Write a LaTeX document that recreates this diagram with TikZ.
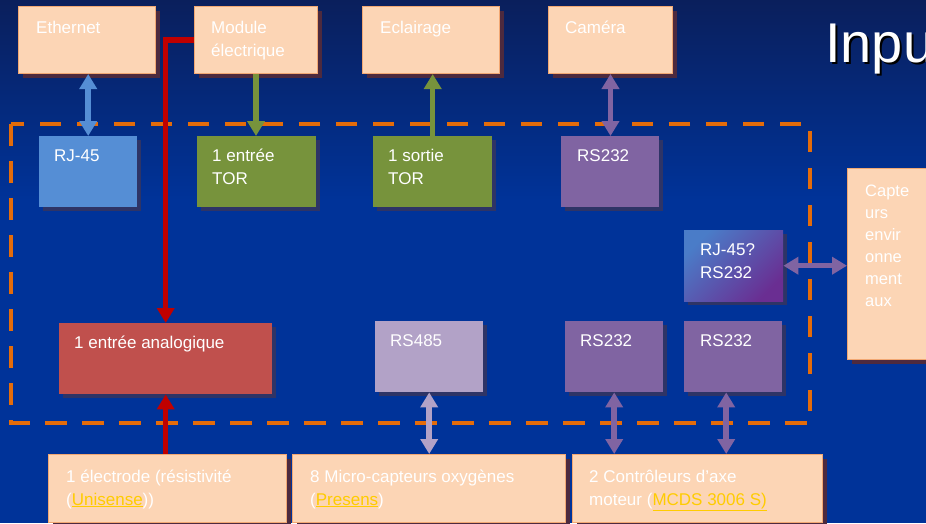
\documentclass[tikz,border=0pt]{standalone}
\usepackage{fontspec}
\setmainfont{Liberation Sans}
\usetikzlibrary{arrows.meta,shadows}
\definecolor{bgtop}{HTML}{0A1F5C}
\definecolor{bgbot}{HTML}{003399}
\definecolor{peach}{HTML}{FCD5B5}
\definecolor{peachline}{HTML}{F2A873}
\definecolor{peachshadow}{HTML}{4D2A3E}
\definecolor{boxshadow}{HTML}{2E3466}
\definecolor{blueb}{HTML}{558ED5}
\definecolor{greenb}{HTML}{77933C}
\definecolor{purpleb}{HTML}{8064A2}
\definecolor{lavb}{HTML}{B2A2C7}
\definecolor{redb}{HTML}{C0504D}
\definecolor{darkred}{HTML}{C00000}
\definecolor{dashor}{HTML}{E46C0A}
\definecolor{linky}{HTML}{FFCC00}
\definecolor{gradblue}{HTML}{4A7CC8}
\definecolor{gradpurple}{HTML}{6A2E92}
\newcommand\lnk[1]{\textcolor{linky}{\underline{#1}}}
\tikzset{
  pbox/.style={draw=peachline, line width=1pt, fill=peach, anchor=north west, inner sep=0pt,
    drop shadow={fill=peachshadow, opacity=1, shadow xshift=4pt, shadow yshift=-4pt}},
  ibox/.style={anchor=north west, inner sep=0pt, draw=none,
    drop shadow={fill=boxshadow, opacity=1, shadow xshift=4pt, shadow yshift=-4pt}},
  lbl/.style={anchor=base west, text=white, font=\fontsize{17}{23}\selectfont, inner sep=0pt, align=left},
  dbl/.style={line width=5.5pt, {Triangle[width=17pt,length=15pt]}-{Triangle[width=17pt,length=15pt]}},
  sgl/.style={line width=5.5pt, -{Triangle[width=17pt,length=15pt]}},
}
\begin{document}
\begin{tikzpicture}[x=1pt,y=-1pt]
\clip (0,0) rectangle (926,523);
\useasboundingbox (0,0) rectangle (926,523);
\shade[top color=bgtop, bottom color=bgbot] (0,0) rectangle (926,200);
\fill[bgbot] (0,199) rectangle (926,523);

% title
\node[anchor=base west, font=\fontsize{56}{60}\selectfont, text=black, inner sep=0pt] (titleshadow) at (827,64.5) {Inpu};
\node[anchor=base west, font=\fontsize{56}{60}\selectfont, text=white, inner sep=0pt] (title) at (825,62) {Inpu};

% dashed frame
\draw[dashor, line width=4pt, dash pattern=on 21.5pt off 15.5pt] (11,124) rectangle (810,423);

% top peach boxes
\node[pbox, minimum width=137pt, minimum height=67pt] (eth) at (18,6) {};
\node[pbox, minimum width=123pt, minimum height=67pt] (mod) at (194,6) {};
\node[pbox, minimum width=137pt, minimum height=67pt] (ecl) at (362,6) {};
\node[pbox, minimum width=124pt, minimum height=67pt] (cam) at (548,6) {};
\node[lbl] (ethT) at (36,33) {Ethernet};
\node[lbl] (modT) at (211,56) {Module\\électrique};
\node[lbl] (eclT) at (380,33) {Eclairage};
\node[lbl] (camT) at (565,33) {Caméra};

% inner boxes
\node[ibox, fill=blueb, minimum width=98pt, minimum height=71pt] (rj) at (39,136) {};
\node[ibox, fill=greenb, minimum width=119pt, minimum height=71pt] (tin) at (197,136) {};
\node[ibox, fill=greenb, minimum width=119pt, minimum height=71pt] (tout) at (373,136) {};
\node[ibox, fill=purpleb, minimum width=98pt, minimum height=71pt] (rsA) at (561,136) {};
\node[ibox, shading=axis, top color=gradblue, bottom color=gradpurple, shading angle=45, minimum width=99pt, minimum height=71pt] (rjq) at (684,230) {};
\node[ibox, fill=redb, minimum width=213pt, minimum height=71pt] (ana) at (59,323) {};
\node[ibox, fill=lavb, minimum width=108pt, minimum height=71pt] (rs485) at (375,321) {};
\node[ibox, fill=purpleb, minimum width=98pt, minimum height=71pt] (rsB) at (565,321) {};
\node[ibox, fill=purpleb, minimum width=98pt, minimum height=71pt] (rsC) at (684,321) {};
\node[lbl] (rjT) at (54,161) {RJ-45};
\node[lbl] (tinT) at (212,184) {1 entrée\\TOR};
\node[lbl] (toutT) at (388,184) {1 sortie\\TOR};
\node[lbl] (rsAT) at (577,161) {RS232};
\node[lbl] (rjqT) at (700,278) {RJ-45?\\RS232};
\node[lbl] (anaT) at (74,348) {1 entrée analogique};
\node[lbl] (rs485T) at (390,346) {RS485};
\node[lbl] (rsBT) at (580,346) {RS232};
\node[lbl] (rsCT) at (700,346) {RS232};

% right peach box
\node[pbox, minimum width=95pt, minimum height=191pt] (cap) at (847,168) {};
\node[lbl, font=\fontsize{16.5}{22}\selectfont] (capT) at (865,306) {Capte\\urs\\envir\\onne\\ment\\aux};

% bottom peach boxes
\node[pbox, minimum width=238pt, minimum height=68pt] (ele) at (48,454) {};
\node[pbox, minimum width=273pt, minimum height=68pt] (mic) at (292,454) {};
\node[pbox, minimum width=250pt, minimum height=68pt] (ctl) at (572,454) {};
\node[lbl] (eleT) at (66,505) {1 électrode (résistivité\\(\lnk{Unisense}))};
\node[lbl] (micT) at (310,505) {8 Micro-capteurs oxygènes\\(\lnk{Presens})};
\node[lbl] (ctlT) at (589,505) {2 Contrôleurs d’axe\\moteur (\lnk{MCDS 3006 S)}};

% connectors
\draw[dbl, blueb] (rj.north |- eth.south) -- (rj.north);
\draw[sgl, greenb] (mod.south) -- (mod.south |- tin.north);
\draw[sgl, greenb] (tout.north) -- (tout.north |- ecl.south);
\draw[dbl, purpleb] (cam.south) -- (cam.south |- rsA.north);
\draw[sgl, darkred] (mod.west) -| (ana.north);
\draw[sgl, darkred] (ana.south |- ele.north) -- (ana.south);
\draw[dbl, lavb] (rs485.south) -- (rs485.south |- mic.north);
\draw[dbl, purpleb] (rsB.south) -- (rsB.south |- ctl.north);
\draw[dbl, purpleb] ([xshift=-7pt]rsC.south) -- ([xshift=-7pt]rsC.south |- ctl.north);
\draw[dbl, purpleb] (rjq.east) -- (rjq.east -| cap.west);
\end{tikzpicture}
\end{document}
